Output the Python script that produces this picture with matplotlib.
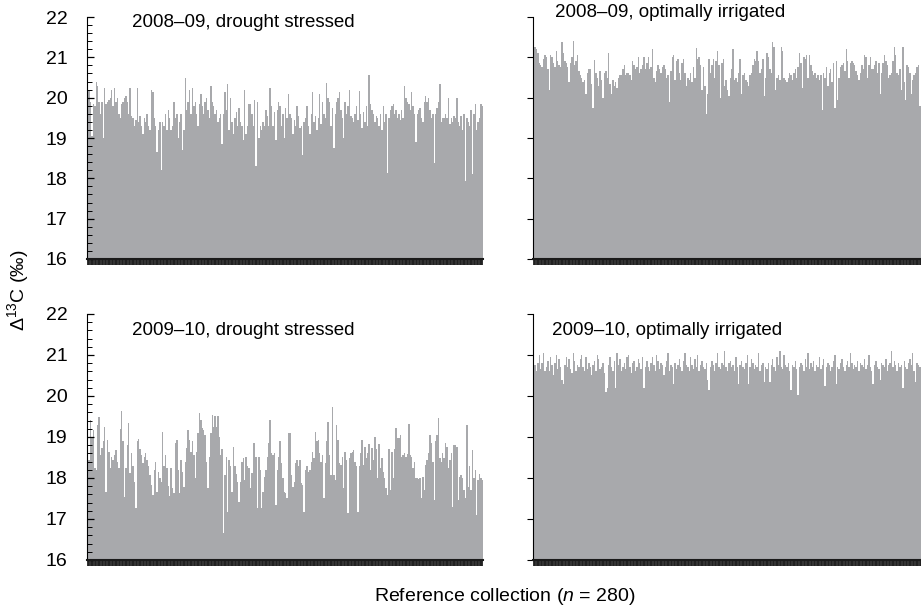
import matplotlib
matplotlib.use("Agg")
import matplotlib.pyplot as plt
import numpy as np

plt.rcParams['font.family'] = ['Liberation Sans', 'DejaVu Sans']
plt.rcParams['mathtext.fontset'] = 'custom'
plt.rcParams['mathtext.rm'] = 'Liberation Sans'
plt.rcParams['mathtext.it'] = 'Liberation Sans:italic'

# carbon isotope discrimination, one value per line of the reference collection
drought_0809 = [
    20.25, 20.2, 19.9, 19.05, 19.85, 19.8, 20.4, 20.3, 19.9, 19.6, 19.9, 19.0, 20.25, 19.85, 19.9, 19.95, 20.0, 20.2, 19.8, 20.25,
    19.9, 20.0, 19.6, 19.5, 19.85, 19.9, 20.0, 20.05, 19.9, 19.6, 20.25, 19.55, 19.5, 19.3, 19.45, 20.25, 19.4, 19.55, 19.3, 19.1,
    19.5, 19.4, 19.6, 19.3, 19.2, 20.2, 20.15, 19.5, 19.3, 18.65, 19.2, 19.4, 18.2, 19.4, 19.3, 19.6, 19.2, 19.7, 19.5, 19.2,
    19.3, 19.9, 19.5, 19.6, 19.0, 19.4, 19.6, 18.7, 19.2, 20.5, 19.7, 19.9, 20.2, 19.6, 20.25, 19.8, 19.9, 19.6, 19.3, 19.85,
    20.1, 19.8, 19.6, 19.9, 20.0, 19.7, 19.5, 20.3, 19.9, 19.8, 19.6, 19.7, 19.4, 19.5, 19.6, 18.85, 19.6, 20.15, 19.7, 20.34,
    19.2, 20.0, 19.4, 19.1, 19.5, 19.65, 19.3, 19.75, 19.4, 19.3, 18.95, 20.2, 19.1, 19.3, 19.85, 19.85, 19.6, 19.3, 19.95, 18.3,
    19.9, 19.0, 19.3, 19.2, 19.4, 19.3, 19.7, 19.55, 19.3, 20.25, 19.8, 19.3, 19.65, 18.95, 19.7, 19.9, 19.8, 19.3, 19.6, 19.0,
    19.75, 19.5, 20.1, 19.6, 19.5, 19.1, 19.45, 19.3, 19.8, 19.55, 19.25, 19.3, 18.57, 19.4, 19.5, 19.8, 19.3, 19.1, 19.6, 20.15,
    19.4, 19.55, 19.2, 19.5, 20.1, 19.35, 19.9, 19.6, 19.5, 20.37, 20.0, 19.9, 19.3, 19.75, 18.75, 19.6, 19.9, 20.0, 20.15, 19.7,
    19.5, 19.0, 19.9, 19.6, 19.8, 20.2, 19.55, 19.5, 19.4, 19.6, 19.8, 19.45, 20.16, 19.6, 19.25, 19.65, 19.4, 19.8, 19.3, 20.55,
    19.85, 19.7, 19.6, 19.4, 19.55, 19.5, 19.3, 19.6, 19.2, 19.8, 19.4, 19.6, 18.13, 19.5, 19.7, 19.8, 19.85, 19.6, 19.7, 19.5,
    19.6, 19.45, 19.7, 19.5, 20.28, 20.0, 19.9, 19.85, 19.7, 20.15, 19.8, 19.6, 18.9, 19.6, 19.7, 19.75, 19.5, 19.4, 19.9, 20.05,
    19.9, 20.0, 19.7, 19.5, 19.6, 18.38, 19.6, 19.75, 19.9, 20.34, 19.4, 19.5, 19.5, 19.6, 19.5, 20.0, 19.35, 19.5, 19.4, 19.55,
    19.5, 20.0, 19.4, 19.3, 19.55, 19.2, 19.6, 17.94, 19.5, 19.4, 19.3, 19.7, 18.1, 19.6, 19.85, 19.2, 19.4, 19.5, 19.85, 19.8,
]

irrigated_0809 = [
    20.56, 21.25, 21.2, 21.1, 20.85, 20.8, 20.75, 20.95, 21.05, 21.0, 20.7, 20.2, 21.05, 21.0, 20.85, 20.75, 21.15, 20.9, 20.8, 20.75,
    21.38, 21.1, 20.9, 20.85, 20.75, 20.4, 20.85, 21.0, 21.4, 20.8, 20.9, 21.05, 20.65, 20.55, 20.5, 20.4, 20.45, 20.1, 20.6, 20.7,
    20.7, 20.35, 19.75, 20.93, 20.6, 20.5, 20.3, 20.65, 20.45, 20.0, 20.6, 20.65, 20.5, 21.1, 20.35, 20.1, 20.45, 20.3, 20.4, 20.25,
    20.5, 20.55, 20.55, 20.7, 20.8, 20.55, 20.6, 20.6, 20.55, 20.45, 20.9, 20.8, 20.7, 20.75, 21.0, 20.6, 20.7, 20.8, 21.0, 20.7,
    20.85, 21.0, 20.7, 20.75, 21.2, 20.5, 20.4, 20.65, 20.8, 20.7,
    20.6, 20.75, 20.8, 20.7, 20.5, 20.55, 19.9, 20.65, 21.0, 21.05, 20.45, 20.9, 20.95, 20.6, 20.45, 20.85, 20.95, 20.6, 20.3, 20.5,
    20.45, 20.6, 20.4, 20.75, 20.5, 21.22, 20.95, 21.0, 20.8, 20.2, 20.75, 20.3, 19.6, 20.1, 20.95, 20.6, 20.8, 20.95, 20.5, 20.9,
    21.15, 20.8, 20.0, 20.85, 20.95, 20.3, 20.45, 20.2, 20.05, 20.5, 20.7, 21.2, 20.45, 20.5, 20.4, 20.6, 20.95, 20.1, 20.55, 20.6,
    20.45, 20.4, 20.3, 20.55, 20.6, 20.8, 20.95, 20.9, 21.15, 20.9, 20.6, 20.7, 20.95, 20.05, 20.5, 21.1, 21.0, 20.7, 20.6, 21.38,
    21.25, 20.2, 20.5, 20.55, 20.45, 21.26, 21.15, 20.5, 20.45, 20.4, 20.5, 20.6, 20.55, 20.45, 20.6,
    20.7, 20.5, 20.75, 21.1, 20.85, 20.25, 21.0, 20.95, 21.05, 20.5, 21.05, 20.8, 20.65, 20.55, 20.6,
    20.5, 20.55, 20.45, 20.55, 19.7, 20.6, 20.5, 20.75, 20.3, 20.6, 20.7, 20.4, 20.85, 19.75, 20.9, 19.95, 20.5, 20.75, 20.8, 20.85,
    20.65, 21.2, 20.9, 20.5, 20.85, 20.9, 20.85, 20.8, 20.65, 20.55, 20.45, 20.6, 20.8, 20.7, 21.05, 21.0, 20.5, 20.8, 21.0, 20.7,
    20.7, 20.8, 20.9, 20.6, 20.85, 20.1, 20.6, 20.85, 21.05, 20.9, 20.8, 20.5, 20.55, 20.6, 20.9, 21.26, 21.05, 20.6, 20.55, 20.7,
    20.2, 21.26, 20.4, 19.95, 20.8, 20.75, 20.6, 20.1, 20.45, 20.55, 20.6, 20.75, 20.8, 19.8, 20.6, 20.7, 20.5, 20.65, 20.8, 20.6,
]

drought_0910 = [
    18.45, 18.44, 19.41, 19.0, 19.17, 18.24, 18.2, 19.3, 19.48, 18.56, 18.72, 18.9, 19.25, 17.67, 18.93, 18.64, 18.24, 18.5, 18.44, 18.56,
    18.68, 18.4, 18.24, 19.19, 19.64, 18.89, 17.53, 18.24, 18.8, 19.33, 18.11, 18.6, 18.3, 17.91, 17.26, 18.89, 18.95, 18.7, 18.56, 18.36,
    18.5, 18.62, 18.44, 18.3, 18.07, 17.83, 17.59, 18.2, 18.4, 17.67, 18.15, 18.0, 17.91, 19.13, 18.28, 18.56, 18.24, 17.8, 17.55, 18.24,
    17.75, 17.63, 18.85, 18.93, 18.2, 17.63, 18.44, 18.15, 17.79, 18.4, 18.72, 19.17, 18.93, 18.64, 18.89, 18.56, 17.99, 18.64, 19.1, 19.58,
    19.41, 19.21, 19.17, 19.05, 18.4, 17.75, 18.52, 19.1, 19.54, 19.25,
    19.5, 19.25, 19.51, 19.01, 18.56, 18.7, 16.65, 18.07, 18.52, 17.18,
    18.44, 18.3, 17.67, 18.76, 18.28, 18.1, 17.91, 17.42, 17.91, 18.4,
    18.48, 17.95, 18.52, 18.3, 18.24, 17.75, 18.11, 18.85, 18.86, 18.5,
    17.26, 18.52, 18.2, 17.26, 17.67, 18.03, 18.2, 18.5, 18.85, 19.41,
    18.6, 18.56, 18.6, 17.34, 18.2, 18.52, 18.89, 18.36, 18.0, 17.67,
    17.63, 17.5, 19.09, 19.09, 18.07, 17.79, 17.91, 18.36, 18.44, 18.3,
    18.44, 17.87, 17.83, 17.18, 18.2, 18.29, 18.15, 18.2, 18.4, 18.64,
    18.48, 19.13, 18.89, 18.93, 18.6, 18.4, 18.56, 17.5, 18.36, 18.9,
    19.37, 18.56, 18.07, 19.74, 18.07, 17.95, 19.29, 18.93, 18.36, 18.32,
    18.5, 17.75, 18.64, 18.44, 17.14, 18.48, 18.6, 18.64, 18.68,
    18.4, 18.3, 17.18, 18.29, 18.6, 18.93, 18.32, 18.76, 18.48, 18.6, 18.83,
    18.2, 18.72, 18.44, 18.99, 18.7, 17.99, 18.83, 18.24, 18.48, 18.15, 18.0, 17.75, 17.59, 18.71, 17.71, 18.64, 17.99, 18.7, 19.23, 18.97,
    18.97, 19.05, 18.52, 18.56, 18.6, 18.52, 18.58, 19.31, 18.56, 18.5, 18.24, 18.4, 17.99, 18.0, 17.97, 17.99, 17.5, 18.03, 17.71, 18.32,
    18.44, 18.6, 19.05, 18.85, 18.4, 17.46, 18.89, 19.05, 19.47, 18.48, 18.4, 18.6, 18.48, 18.85, 18.76, 18.24, 18.44, 18.6, 17.3, 18.8,
    18.8, 18.76, 17.46, 18.03, 18.07, 18.0, 17.71, 17.5, 19.29, 17.79, 18.3, 17.71, 18.68, 17.99, 18.2, 17.1, 17.95, 18.1, 17.99, 17.95,
]

irrigated_0910 = [
    20.9, 20.75, 20.6, 20.8, 21.0, 20.65, 20.8, 21.05, 20.6, 20.7, 20.85, 20.6, 20.95, 20.75, 20.5, 20.8, 21.0, 20.65, 20.9, 20.7,
    20.4, 20.3, 20.75, 20.95, 20.7, 20.9, 20.65, 20.55, 21.05, 20.85, 20.6, 20.75, 20.7, 20.9, 21.0, 20.7, 20.6, 20.95, 20.65, 20.8,
    20.7, 20.5, 20.75, 20.85, 20.6, 21.0, 20.9, 20.65, 20.7, 20.8, 20.55, 20.1, 20.2, 20.75, 20.95, 20.7, 20.6, 20.85, 20.2, 21.05,
    20.75, 20.9, 20.6, 20.7, 20.8, 20.65, 20.95, 21.0, 20.7, 20.55, 20.8, 20.85, 20.6, 20.7, 20.9, 20.8, 20.65, 20.95, 20.2, 20.7,
    20.85, 20.7, 20.6, 20.8, 20.95, 20.75, 20.6, 21.0, 20.85, 20.65, 20.8, 20.75, 20.5, 20.7, 20.85, 21.05, 20.6, 20.75, 20.7, 20.3,
    20.8, 20.65, 20.75, 20.9, 20.7, 20.6, 20.85, 21.05, 20.75, 20.7, 20.6, 20.95, 20.75, 20.65, 20.9, 20.7, 21.0, 20.6, 20.75, 20.85,
    20.7, 20.65, 20.8, 20.4, 20.15, 20.7, 20.85, 20.75, 20.6, 20.8, 21.05, 20.7, 20.65, 20.8, 20.75, 21.1, 20.7, 20.6, 20.8, 20.85,
    20.7, 20.75, 20.6, 20.95, 20.7, 20.3, 20.75, 20.85, 20.7, 20.65, 20.8, 21.0, 20.3, 20.7, 20.9, 20.8, 20.65, 20.75, 20.7, 21.05,
    20.6, 20.75, 20.8, 20.35, 20.7, 20.65, 20.8, 20.35, 20.75, 20.9, 20.7, 20.6, 20.95, 20.75, 21.1, 20.7, 20.65, 21.0, 20.75, 20.7,
    20.8, 20.6, 20.15, 20.75, 20.7, 20.85, 20.65, 20.02, 20.7, 20.8, 20.75, 20.6, 20.9, 20.7, 21.05, 20.65, 20.8, 20.7, 20.85, 20.6,
    20.75, 20.7, 20.95, 20.65, 20.75, 20.9, 20.25, 20.7, 20.8, 20.75, 20.6, 20.7, 20.85, 21.0, 20.3, 20.7, 20.65, 20.8, 20.9, 20.7,
    20.6, 20.75, 20.85, 20.7, 21.05, 20.8, 20.65, 20.75, 20.7, 20.85, 20.6, 20.8, 20.75, 20.7, 20.9, 20.65, 20.75, 21.0, 20.7, 20.6,
    20.3, 20.75, 20.85, 20.7, 20.65, 20.4, 20.8, 20.75, 20.7, 20.9, 20.6, 20.75, 20.8, 21.1, 20.7, 20.85, 20.75, 20.6, 20.8, 20.7,
    20.75, 20.2, 20.85, 20.7, 20.65, 20.8, 20.9, 20.75, 21.05, 20.6, 20.35, 20.8, 20.75, 20.7, 21.1, 20.65, 20.7, 20.75, 20.8, 20.7,
]

titles = ['2008–09, drought stressed', '2008–09, optimally irrigated',
          '2009–10, drought stressed', '2009–10, optimally irrigated']
yticks = [16, 17, 18, 19, 20, 21, 22]

bar_color = '#a8a9ac'
fig = plt.figure(figsize=(9.21, 6.12), dpi=100)

# [left, bottom, width, height] for TL, TR, BL, BR
boxes = [[0.0945, 0.5768, 0.43, 0.3954], [0.5787, 0.5768, 0.43, 0.3954],
         [0.0945, 0.085, 0.43, 0.402], [0.5787, 0.085, 0.43, 0.402]]
title_pos = [(0.114, 0.979), (0.056, 1.02), (0.114, 0.931), (0.048, 0.931)]
series = [drought_0809, irrigated_0809, drought_0910, irrigated_0910]

for k, vals in enumerate(series):
    ax = fig.add_axes(boxes[k])
    x = np.arange(1, len(vals) + 1)
    v = np.array(vals)
    ax.bar(x, v - 16, bottom=16, width=1.0, color=bar_color, linewidth=0)
    ax.set_xlim(0.5, 280.5)
    ax.set_ylim(16, 22)
    for s in ['top', 'right']:
        ax.spines[s].set_visible(False)
    ax.spines['left'].set_linewidth(0.8)
    ax.spines['bottom'].set_linewidth(1.5)
    ax.spines['bottom'].set_color('#1a1a1a')
    # one tick per line; at this density they merge into a dark band
    ax.set_xticks(x)
    ax.tick_params(axis='x', labelbottom=False, direction='out', length=4.5, width=1.3, color='#1f1f1f')
    ax.set_yticks(yticks)
    if k % 2 == 0:
        ax.set_yticks(np.arange(16, 22.01, 0.2), minor=True)
        ax.tick_params(axis='y', which='major', direction='in', length=5, width=0.9, labelsize=14, pad=14)
        ax.tick_params(axis='y', which='minor', direction='in', length=3.5, width=0.7)
    else:
        ax.tick_params(axis='y', which='major', direction='out', length=4.5, width=0.8, labelleft=False)
    ax.text(title_pos[k][0], title_pos[k][1], titles[k], transform=ax.transAxes,
            fontsize=13.5, va='center', ha='left')

fig.text(0.02, 0.526, r'$\Delta^{13}$C (‰)', rotation=90, fontsize=14, ha='center', va='center')
fig.text(0.548, 0.026, r'Reference collection ($n$ = 280)', fontsize=14, ha='center', va='center')

fig.savefig('out.png', dpi=100)
